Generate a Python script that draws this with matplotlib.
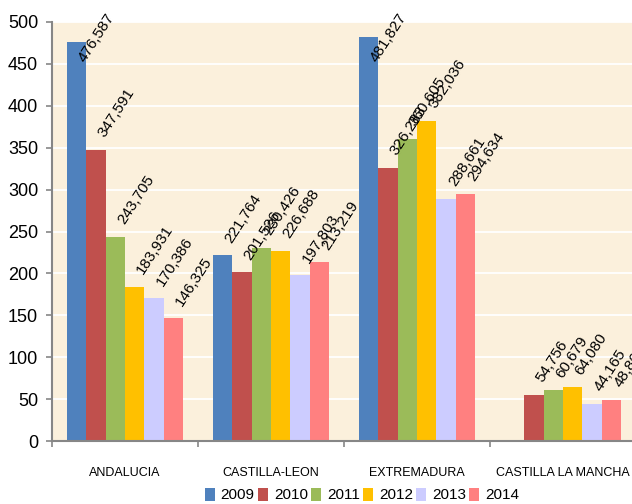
import matplotlib
matplotlib.use("Agg")
import matplotlib.pyplot as plt
import numpy as np
from matplotlib.patches import Patch

plt.rcParams['font.family'] = ['Liberation Sans', 'DejaVu Sans']

categories = ["ANDALUCIA", "CASTILLA-LEON", "EXTREMADURA", "CASTILLA LA MANCHA"]
years = ["2009", "2010", "2011", "2012", "2013", "2014"]
v2009 = [476.587, 221.764, 481.827, None]
v2010 = [347.591, 201.526, 326.283, 54.756]
v2011 = [243.705, 230.426, 360.605, 60.679]
v2012 = [183.931, 226.688, 382.036, 64.080]
v2013 = [170.386, 197.803, 288.661, 44.165]
v2014 = [146.325, 213.219, 294.634, 48.865]
series = [v2009, v2010, v2011, v2012, v2013, v2014]
colors = ["#4F81BD", "#C0504D", "#9BBB59", "#FFC000", "#CCCCFF", "#FF8080"]
yticks = list(range(0, 501, 50))

W, H, DPI = 632, 504, 100
fig = plt.figure(figsize=(W / DPI, H / DPI), dpi=DPI)
ax = fig.add_axes([52 / W, 1 - 441 / H, 584 / W, (441 - 22) / H])
ax.set_facecolor("#FBF0DC")

bw = 1 / 7.5
n = len(years)
anns = []
for j, (vals, c) in enumerate(zip(series, colors)):
    for i, v in enumerate(vals):
        if v is None:
            continue
        x = i + 0.5 + (j - (n - 1) / 2) * bw
        ax.bar(x, v, width=bw, color=c, linewidth=0, zorder=2)
        lab = f"{v:.3f}".replace(".", ",")
        a = ax.annotate(lab, (x, v), xytext=(4, 10), textcoords="offset points",
                        rotation=57, rotation_mode="anchor", ha="left", va="center",
                        fontsize=11, color="black", zorder=5, annotation_clip=False)
        anns.append(a)

ax.set_xlim(0, 4)
ax.set_ylim(0, 500)
ax.set_yticks(yticks)
ax.set_yticklabels([str(t) for t in yticks], fontsize=13)
ax.set_xticks([i + 0.5 for i in range(4)])
ax.set_xticklabels(categories, fontsize=9)
ax.set_xticks(range(5), minor=True)
ax.tick_params(axis="x", which="major", length=0, pad=19)
ax.tick_params(axis="x", which="minor", length=4, color="#868686", width=1.2)
ax.tick_params(axis="y", length=4, color="#868686", width=1.2, pad=6)
ax.grid(axis="y", color="white", linewidth=1.3, zorder=1)
ax.set_axisbelow(True)
for s in ["top", "right"]:
    ax.spines[s].set_visible(False)
for s in ["left", "bottom"]:
    ax.spines[s].set_color("#868686")
    ax.spines[s].set_linewidth(1.5)
    ax.spines[s].set_zorder(3)

handles = [Patch(facecolor=c, edgecolor="none") for c in colors]
fig.legend(handles, years, loc="center", bbox_to_anchor=(362 / W, 9 / H),
           ncol=6, frameon=False, fontsize=11, handlelength=0.65, handleheight=0.95,
           handletextpad=0.38, columnspacing=0.22, borderpad=0)

# keep labels inside the figure top (like Excel does)
fig.canvas.draw()
r = fig.canvas.get_renderer()
for a in anns:
    bb = a.get_window_extent(r)
    limit = H - 11
    if bb.y1 > limit:
        d = (bb.y1 - limit) * 72 / DPI
        ox, oy = a.xyann
        a.xyann = (ox, oy - d)

fig.savefig("out.png", dpi=DPI)
